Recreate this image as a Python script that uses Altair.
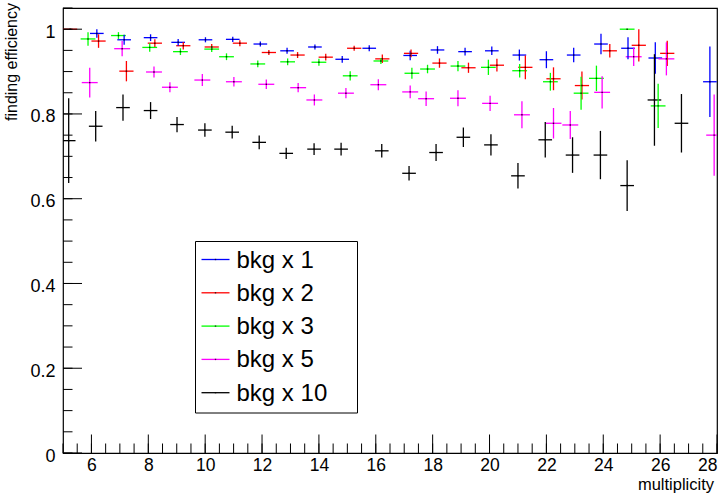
import altair as alt
import pandas as pd

# ---------------- data ----------------
series_names = ["bkg x 1", "bkg x 2", "bkg x 3", "bkg x 5", "bkg x 10"]
series_colors = ["#0000ff", "#ff0000", "#00ff00", "#ff00ff", "#000000"]
x_half_width = [0.24, 0.25, 0.26, 0.28, 0.24]

x1 = [6.19, 7.15, 8.08, 9.05, 10.01, 10.97, 11.94, 12.88, 13.86, 14.82, 15.77, 17.21,
      18.17, 19.14, 20.08, 21.05, 22.00, 22.96, 23.92, 24.87, 25.83, 27.75]
y1 = [0.990, 0.975, 0.980, 0.969, 0.975, 0.976, 0.965, 0.949, 0.958, 0.929, 0.955, 0.938,
      0.951, 0.947, 0.949, 0.939, 0.928, 0.939, 0.965, 0.955, 0.932, 0.876]
e1 = [0.010, 0.012, 0.008, 0.008, 0.006, 0.006, 0.006, 0.007, 0.006, 0.008, 0.007, 0.011,
      0.009, 0.009, 0.010, 0.013, 0.020, 0.017, 0.024, 0.026, 0.037, 0.083]

x2 = [5.25, 6.25, 7.23, 8.23, 9.23, 10.23, 11.22, 12.24, 13.25, 14.24, 15.24, 16.23,
      17.24, 18.24, 19.26, 20.26, 21.26, 22.25, 23.25, 24.23, 25.25, 26.25]
y2 = [1.000, 0.972, 0.901, 0.967, 0.961, 0.958, 0.967, 0.945, 0.939, 0.934, 0.955, 0.930,
      0.943, 0.920, 0.909, 0.915, 0.910, 0.883, 0.867, 0.949, 0.962, 0.943]
e2 = [0.000, 0.016, 0.024, 0.009, 0.009, 0.007, 0.007, 0.006, 0.007, 0.008, 0.006, 0.010,
      0.009, 0.011, 0.012, 0.015, 0.028, 0.027, 0.033, 0.016, 0.038, 0.030]

x3 = [5.88, 6.95, 8.05, 9.13, 10.23, 10.75, 11.85, 12.90, 14.00, 15.10, 16.18, 17.27,
      17.82, 18.89, 19.96, 21.06, 22.14, 23.22, 23.76, 24.84, 25.93]
y3 = [0.977, 0.985, 0.957, 0.947, 0.953, 0.935, 0.918, 0.923, 0.922, 0.890, 0.925, 0.896,
      0.906, 0.913, 0.910, 0.902, 0.876, 0.849, 0.884, 1.000, 0.819]
e3 = [0.016, 0.008, 0.010, 0.008, 0.007, 0.008, 0.008, 0.008, 0.008, 0.011, 0.007, 0.013,
      0.010, 0.012, 0.018, 0.016, 0.021, 0.039, 0.030, 0.000, 0.052]

x5 = [5.94, 7.08, 8.20, 8.76, 9.90, 11.01, 12.15, 13.27, 13.84, 14.95, 16.09, 17.21,
      17.77, 18.89, 20.02, 21.14, 22.25, 22.84, 23.96, 25.07, 26.22, 27.90]
y5 = [0.874, 0.954, 0.899, 0.863, 0.880, 0.876, 0.870, 0.862, 0.833, 0.849, 0.869, 0.852,
      0.836, 0.837, 0.825, 0.798, 0.778, 0.774, 0.851, 0.935, 0.930, 0.750]
e5 = [0.035, 0.018, 0.013, 0.012, 0.014, 0.011, 0.011, 0.011, 0.013, 0.012, 0.013, 0.015,
      0.017, 0.019, 0.018, 0.032, 0.036, 0.033, 0.038, 0.022, 0.039, 0.096]

x10 = [5.20, 6.15, 7.11, 8.08, 9.01, 9.99, 10.95, 11.90, 12.85, 13.83, 14.78, 16.21,
       17.17, 18.12, 19.08, 20.05, 21.00, 21.96, 22.92, 23.90, 24.84, 25.80, 26.75]
y10 = [0.737, 0.771, 0.815, 0.808, 0.775, 0.762, 0.757, 0.733, 0.707, 0.717, 0.717, 0.713,
       0.660, 0.709, 0.745, 0.727, 0.654, 0.739, 0.703, 0.703, 0.631, 0.833, 0.778]
e10 = [0.100, 0.036, 0.031, 0.020, 0.018, 0.016, 0.015, 0.016, 0.013, 0.014, 0.015, 0.016,
       0.017, 0.020, 0.023, 0.025, 0.030, 0.042, 0.042, 0.057, 0.060, 0.108, 0.069]

x_label_values = [6, 8, 10, 12, 14, 16, 18, 20, 22, 24, 26, 28]
y_label_values = [0, 0.2, 0.4, 0.6, 0.8, 1.0]
x_minor_ticks = [5 + 0.5 * i for i in range(47)]
y_minor_ticks = [0.05 * i for i in range(22)]

x_title = "multiplicity"
y_title = "finding efficiency"

# ---------------- build table ----------------
all_x = [x1, x2, x3, x5, x10]
all_y = [y1, y2, y3, y5, y10]
all_e = [e1, e2, e3, e5, e10]
rows = []
for k, (name, xs, ys, es, hw) in enumerate(zip(series_names, all_x, all_y, all_e, x_half_width)):
    for xv, yv, ev in zip(xs, ys, es):
        rows.append(dict(series=name, order=k, x=xv, y=yv, ylo=yv - ev, yhi=yv + ev,
                         xlo=xv - hw, xhi=xv + hw))
df = pd.DataFrame(rows)

W, H = 654, 445
FONT = "Liberation Sans"

xscale = alt.Scale(domain=[5, 28], nice=False, zero=False)
yscale = alt.Scale(domain=[0, 1.05], nice=False, zero=False)
color = alt.Color("series:N", scale=alt.Scale(domain=series_names, range=series_colors), legend=None)

xaxis = alt.Axis(values=x_label_values, tickSize=0, domain=False, grid=False, labelFontSize=17.5,
                 labelFont=FONT, labelColor="black", labelPadding=3, title=None, format="~g")
yaxis = alt.Axis(values=y_label_values, tickSize=0, domain=False, grid=False, labelFontSize=18,
                 labelFont=FONT, labelColor="black", labelPadding=8, title=None, format="~g",
                 labelOffset=3)

base = alt.Chart(df)
hbar = base.mark_rule(strokeWidth=1.3, clip=True).encode(
    x=alt.X("xlo:Q", scale=xscale, axis=xaxis), x2="xhi:Q",
    y=alt.Y("y:Q", scale=yscale, axis=yaxis), color=color)
vbar = base.mark_rule(strokeWidth=1.3, clip=True).encode(
    x=alt.X("x:Q", scale=xscale), y=alt.Y("ylo:Q", scale=yscale), y2="yhi:Q", color=color)
dots = base.mark_square(size=2, color="black", opacity=0.8, clip=True).encode(
    x=alt.X("x:Q", scale=xscale), y=alt.Y("y:Q", scale=yscale))

# ticks pointing inward (ROOT style)
xt_major = alt.Chart(pd.DataFrame({"v": x_label_values})).mark_rule(color="black", strokeWidth=1).encode(
    x=alt.X("v:Q", scale=xscale), y=alt.value(H), y2=alt.value(H - 18.5))
xt_minor = alt.Chart(pd.DataFrame({"v": x_minor_ticks})).mark_rule(color="black", strokeWidth=1).encode(
    x=alt.X("v:Q", scale=xscale), y=alt.value(H), y2=alt.value(H - 9.5))
yt_major = alt.Chart(pd.DataFrame({"v": y_label_values})).mark_rule(color="black", strokeWidth=1).encode(
    y=alt.Y("v:Q", scale=yscale), x=alt.value(0), x2=alt.value(19))
yt_minor = alt.Chart(pd.DataFrame({"v": y_minor_ticks})).mark_rule(color="black", strokeWidth=1).encode(
    y=alt.Y("v:Q", scale=yscale), x=alt.value(0), x2=alt.value(9.5))

# axis titles
ytitle = alt.Chart(pd.DataFrame({"t": [y_title]})).mark_text(
    angle=270, align="right", baseline="alphabetic", fontSize=16, font=FONT, color="black"
).encode(text="t:N", x=alt.value(-46), y=alt.value(-5))
xtitle = alt.Chart(pd.DataFrame({"t": [x_title]})).mark_text(
    align="right", baseline="alphabetic", fontSize=16.5, font=FONT, color="black"
).encode(text="t:N", x=alt.value(651), y=alt.value(482))

# legend (drawn manually, ROOT TLegend style)
leg_box = alt.Chart(pd.DataFrame({"a": [0]})).mark_rect(fill="white", stroke="black", strokeWidth=1).encode(
    x=alt.value(132.5), x2=alt.value(294.5), y=alt.value(233.5), y2=alt.value(405))
legend_layers = [leg_box]
for i, (name, col) in enumerate(zip(series_names, series_colors)):
    yy = 251.5 + 33.3 * i
    ld = alt.Chart(pd.DataFrame({"t": [name]}))
    legend_layers.append(ld.mark_rule(color=col, strokeWidth=1.3).encode(
        x=alt.value(138.5), x2=alt.value(166.5), y=alt.value(yy)))
    legend_layers.append(ld.mark_square(size=2, color="black").encode(
        x=alt.value(152.5), y=alt.value(yy)))
    legend_layers.append(ld.mark_text(align="left", baseline="middle", fontSize=24, font=FONT,
                                      color="black", dy=1).encode(
        text="t:N", x=alt.value(173.5), y=alt.value(yy)))

chart = alt.layer(
    hbar, vbar, dots, xt_minor, xt_major, yt_minor, yt_major, ytitle, xtitle, *legend_layers
).properties(
    width=W, height=H,
    autosize=alt.AutoSizeParams(type="none"),
    padding={"left": 63, "top": 8, "right": 11, "bottom": 41},
    background="white",
).configure_view(stroke="black", strokeWidth=1.2)

chart.save("out.html", embed_options={"renderer": "svg", "actions": False})
